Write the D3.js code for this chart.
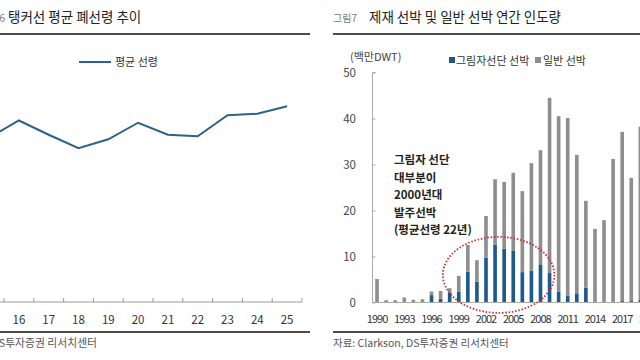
<!DOCTYPE html>
<html><head><meta charset="utf-8">
<script src="https://cdn.jsdelivr.net/npm/d3@7/dist/d3.min.js"></script>
<style>
body{margin:0;background:#fff;}
svg{display:block;font-family:"Noto Sans CJK KR","Noto Sans",sans-serif;}
</style></head>
<body><svg id="c" width="640" height="360"></svg>
<script>
// ---- Left chart: tanker average scrapping age ----
const ageYears = ["15","16","17","18","19","20","21","22","23","24","25"];
const ageValues = [21.9, 24.2, 22.3, 20.5, 21.7, 23.9, 22.3, 22.1, 24.9, 25.1, 26.1];
const ageLabels = ["16","17","18","19","20","21","22","23","24","25"];

// ---- Right chart: deliveries (million DWT) ----
const delivYears = [1990,1991,1992,1993,1994,1995,1996,1997,1998,1999,2000,2001,2002,2003,2004,2005,2006,2007,2008,2009,2010,2011,2012,2013,2014,2015,2016,2017,2018,2019];
const shadowFleet = [0,0,0,0,0,0,1.6,0.8,2.1,2.3,6.7,4.5,9.7,12.6,11.7,11.2,6.6,6.9,8.3,6.4,2.3,1.4,2.0,3.2,0.1,0.1,0.1,0.3,0.3,0.6];
const totalDeliv = [5.1,0.5,0.5,1.1,0.6,0.7,2.4,2.5,3.1,5.8,12.5,9.2,18.8,26.8,26.2,28.2,24.2,30.3,33.1,44.5,40.5,40.1,32.1,22.1,16.0,17.9,31.2,37.1,27.1,38.2];
const generalShips = totalDeliv.map((t,i)=>+(t-shadowFleet[i]).toFixed(1));
const axisYears = d3.range(1990, 2021);
const delivTicks = [1990,1993,1996,1999,2002,2005,2008,2011,2014,2017,2020];
const delivYTicks = [0,10,20,30,40,50];
const noteLines = ["그림자 선단","대부분이","2000년대","발주선박","(평균선령 22년)"];

const svg = d3.select("#c");
const BLUE = "#1d5a8c", GRAY = "#8e8e8e", LINE = "#2d6289";

// ===== Left panel =====
svg.append("text").attr("x",5).attr("y",22).attr("text-anchor","end")
  .attr("font-size",10).attr("fill","#777").text("그림6");
svg.append("text").attr("x",8).attr("y",22).attr("font-size",13.5).attr("fill","#222")
  .text("탱커선 평균 폐선령 추이");
svg.append("line").attr("x1",0).attr("x2",310).attr("y1",34).attr("y2",34)
  .attr("stroke","#111").attr("stroke-width",1.5);

const xL = d3.scaleBand().domain(ageYears).range([-25.8,302]);
const yL = d3.scaleLinear().domain([0,30]).range([302,77]);

// x axis
const gxL = svg.append("g");
gxL.append("line").attr("x1",0).attr("x2",302).attr("y1",302).attr("y2",302).attr("stroke","#999");
gxL.selectAll("line.t").data(ageYears).join("line").attr("class","t")
  .attr("x1",d=>xL(d)+xL.bandwidth()).attr("x2",d=>xL(d)+xL.bandwidth())
  .attr("y1",302).attr("y2",298).attr("stroke","#999");
gxL.selectAll("text").data(ageLabels).join("text")
  .attr("x",d=>xL(d)+xL.bandwidth()/2).attr("y",324).attr("text-anchor","middle")
  .attr("font-size",11.5).attr("fill","#333").text(d=>d);

svg.append("path").datum(ageYears.map((y,i)=>[y,ageValues[i]]))
  .attr("fill","none").attr("stroke",LINE).attr("stroke-width",2)
  .attr("d",d3.line().x(d=>xL(d[0])+xL.bandwidth()/2).y(d=>yL(d[1])));

// legend
svg.append("line").attr("x1",79).attr("x2",111).attr("y1",62).attr("y2",62)
  .attr("stroke",LINE).attr("stroke-width",2);
svg.append("text").attr("x",115).attr("y",66).attr("font-size",11).attr("fill","#333").text("평균 선령");

svg.append("line").attr("x1",0).attr("x2",310).attr("y1",332).attr("y2",332)
  .attr("stroke","#111").attr("stroke-width",1.5);
svg.append("text").attr("x",97).attr("y",347).attr("text-anchor","end")
  .attr("font-size",10.8).attr("fill","#555").text("자료: DS투자증권 리서치센터");

// ===== Right panel =====
svg.append("text").attr("x",333).attr("y",22).attr("font-size",10).attr("fill","#777").text("그림7");
svg.append("text").attr("x",369).attr("y",22).attr("font-size",13.5).attr("fill","#222")
  .text("제재 선박 및 일반 선박 연간 인도량");
svg.append("line").attr("x1",333).attr("x2",640).attr("y1",34).attr("y2",34)
  .attr("stroke","#111").attr("stroke-width",1.5);

const xR = d3.scaleBand().domain(axisYears).range([372.5, 372.5+31*9.08]).paddingInner(0.6).paddingOuter(0.3);
const yR = d3.scaleLinear().domain([0,50]).range([302.5,72.5]);

svg.append("text").attr("x",350).attr("y",61).attr("font-size",11).attr("fill","#444").text("(백만DWT)");

// y axis
const gyR = svg.append("g").attr("transform","translate(372.5,0)")
  .call(d3.axisRight(yR).tickValues(delivYTicks).tickSize(3).tickFormat(""));
gyR.select(".domain").attr("stroke","#aaa").attr("d","M3,72.5H0V302.5");
gyR.selectAll(".tick line").attr("stroke","#aaa");
svg.selectAll("text.yr").data(delivYTicks).join("text").attr("class","yr")
  .attr("x",356).attr("y",d=>yR(d)+4).attr("text-anchor","end")
  .attr("font-size",11.5).attr("fill","#444").text(d=>d);

// stacked bars
const stackData = delivYears.map((y,i)=>({year:y, shadow:shadowFleet[i], general:generalShips[i]}));
const series = d3.stack().keys(["shadow","general"])(stackData);
const colors = {shadow:BLUE, general:GRAY};
svg.append("g").selectAll("g").data(series).join("g").attr("fill",d=>colors[d.key])
  .selectAll("rect").data(d=>d).join("rect")
  .attr("x",d=>xR(d.data.year)).attr("width",xR.bandwidth())
  .attr("y",d=>yR(d[1])).attr("height",d=>Math.max(0,yR(d[0])-yR(d[1])));

// x axis
svg.append("line").attr("x1",372).attr("x2",640).attr("y1",302.5).attr("y2",302.5).attr("stroke","#aaa");
svg.selectAll("text.xr").data(delivTicks).join("text").attr("class","xr")
  .attr("x",d=>xR(d)+xR.bandwidth()/2).attr("y",323).attr("text-anchor","middle")
  .attr("font-size",11).attr("letter-spacing",-1).attr("fill","#333").text(d=>d);

// legend
svg.append("rect").attr("x",449).attr("y",57).attr("width",6).attr("height",6).attr("fill",BLUE);
svg.append("text").attr("x",456).attr("y",65).attr("font-size",11).attr("fill","#333").text("그림자선단 선박");
svg.append("rect").attr("x",535).attr("y",57).attr("width",6).attr("height",6).attr("fill",GRAY);
svg.append("text").attr("x",543).attr("y",65).attr("font-size",11).attr("fill","#333").text("일반 선박");

// annotation
const note = svg.append("text").attr("font-size",11.5).attr("font-weight","bold").attr("fill","#222");
note.selectAll("tspan").data(noteLines).join("tspan")
  .attr("x",394).attr("y",(d,i)=>164+i*17.6).text(d=>d);

// dotted ellipse around 2000s shadow-fleet bars
const ex0 = xR(1998)-5, ex1 = xR(2009)+xR.bandwidth()+3;
svg.append("ellipse").attr("cx",(ex0+ex1)/2).attr("cy",yR(6)).attr("rx",(ex1-ex0)/2).attr("ry",38)
  .attr("fill","none").attr("stroke","#d42a2a").attr("stroke-width",1.8)
  .attr("stroke-dasharray","1.5,1.8");

svg.append("line").attr("x1",333).attr("x2",640).attr("y1",332).attr("y2",332)
  .attr("stroke","#111").attr("stroke-width",1.5);
svg.append("text").attr("x",333).attr("y",347).attr("font-size",10.5).attr("fill","#555")
  .text("자료: Clarkson, DS투자증권 리서치센터");
</script></body></html>
